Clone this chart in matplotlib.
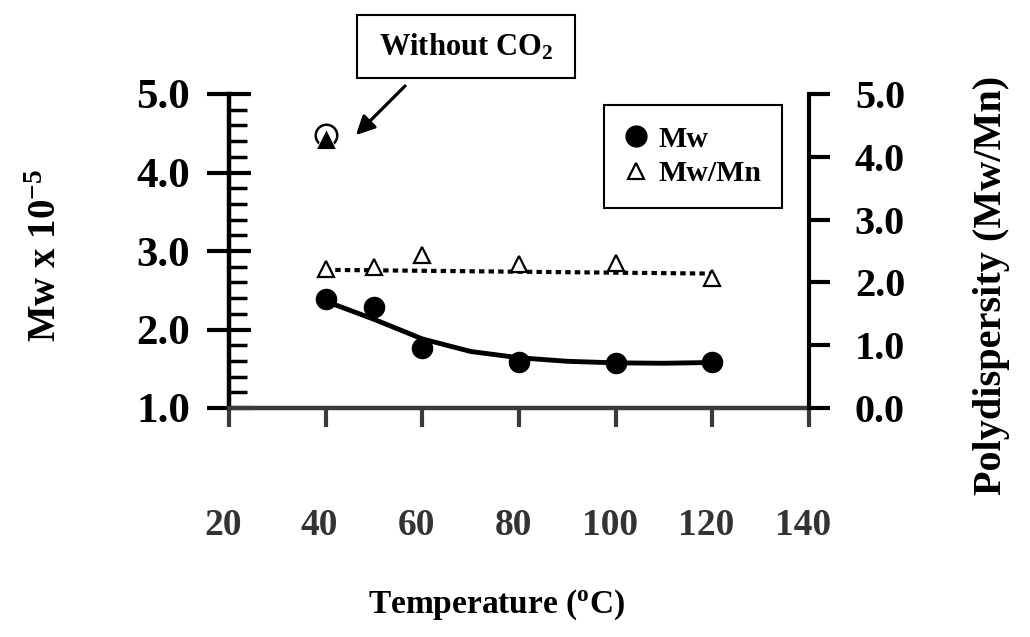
import matplotlib
matplotlib.use('Agg')
import matplotlib.pyplot as plt
import matplotlib.transforms as mtransforms
from matplotlib.patches import Rectangle
from matplotlib.lines import Line2D
from matplotlib.ticker import MultipleLocator

# ---- data ----
temps = [40, 50, 60, 80, 100, 120]
mw = [2.39, 2.29, 1.77, 1.58, 1.57, 1.58]
pdi = [2.22, 2.24, 2.43, 2.29, 2.31, 2.07]
mw_fit_t = [40, 50, 60, 70, 80, 90, 100, 110, 120]
mw_fit = [2.36, 2.13, 1.88, 1.72, 1.64, 1.595, 1.575, 1.57, 1.58]
pdi_fit_t = [40, 120]
pdi_fit = [2.20, 2.14]
noco2_t = [40]
noco2_mw = [4.48]
noco2_pdi = [4.29]
xticks = [20, 40, 60, 80, 100, 120, 140]
left_ticks = [1.0, 2.0, 3.0, 4.0, 5.0]
right_ticks = [0.0, 1.0, 2.0, 3.0, 4.0, 5.0]
legend_labels = ['Mw', 'Mw/Mn']

plt.rcParams['font.family'] = ['Liberation Serif', 'DejaVu Serif']
plt.rcParams['font.weight'] = 'bold'
plt.rcParams['mathtext.default'] = 'regular'

W, H = 1030, 637
fig = plt.figure(figsize=(W / 100, H / 100), dpi=100)


def fx(px):
    return px / W


def fy(py):
    return 1 - py / H


ax = fig.add_axes([fx(229), fy(408), fx(809) - fx(229), fy(94) - fy(408)])
ax2 = ax.twinx()

ax.set_xlim(20, 140)
ax.set_ylim(1, 5)
ax2.set_ylim(0, 5)

for a in (ax, ax2):
    a.spines['top'].set_visible(False)
ax.spines['right'].set_visible(False)
ax2.spines['left'].set_visible(False)
ax2.spines['bottom'].set_visible(False)
ax.spines['left'].set_linewidth(3.2)
ax.spines['bottom'].set_linewidth(3.2)
ax.spines['bottom'].set_color('#3a3a3a')
ax2.spines['right'].set_linewidth(3.0)

ax.set_xticks(xticks)
ax.set_xticklabels([str(t) for t in xticks])
ax.set_yticks(left_ticks)
ax.set_yticklabels([f'{v:.1f}' for v in left_ticks])
ax.yaxis.set_minor_locator(MultipleLocator(0.2))
ax2.set_yticks(right_ticks)
ax2.set_yticklabels([f'{v:.1f}' for v in right_ticks])

ax.tick_params(axis='y', which='major', direction='inout', length=31, width=3,
               labelsize=31, pad=12.5)
ax.tick_params(axis='y', which='minor', direction='in', length=13, width=2.5)
ax.tick_params(axis='x', direction='out', length=14, width=3, labelsize=27,
               pad=58, labelcolor='#333333', color='#3a3a3a')
ax2.tick_params(axis='y', direction='out', length=15, width=3, labelsize=29, pad=18)

shift = mtransforms.ScaledTranslation(-6 / 100, 0, fig.dpi_scale_trans)
for lab in ax.get_xticklabels():
    lab.set_transform(lab.get_transform() + shift)

# Mw
ax.plot(mw_fit_t, mw_fit, '-', color='k', lw=3.5, zorder=2)
ax.plot(temps, mw, 'o', color='k', ms=14.5, zorder=3)
ax.plot(noco2_t, noco2_mw, 'o', mfc='white', mec='k', ms=15.5, mew=1.8, zorder=3)

# Polydispersity
ax2.plot(pdi_fit_t, pdi_fit, color='k', lw=3, ls=(0, (1.3, 1.0)), zorder=2)
ax2.plot(temps, pdi, '^', mfc='white', mec='k', ms=11, mew=1.6, zorder=3)
ax2.plot(noco2_t, noco2_pdi, '^', color='k', mec='white', mew=0.6, ms=15, zorder=4)

# legend
h1 = Line2D([], [], marker='o', ls='none', color='k', markersize=15)
h2 = Line2D([], [], marker='^', ls='none', mfc='white', mec='k', markersize=11, mew=1.6)
leg = ax2.legend([h1, h2], legend_labels, loc='upper right',
                 bbox_to_anchor=(fx(782), fy(105)), bbox_transform=fig.transFigure,
                 frameon=True, fancybox=False, edgecolor='k', fontsize=21.5,
                 borderaxespad=0, borderpad=0.7, labelspacing=0.25,
                 handlelength=0.7, handletextpad=0.4, framealpha=1)
leg.get_frame().set_linewidth(1.5)

# annotation box
fig.add_artist(Rectangle((fx(357), fy(78)), fx(575) - fx(357), fy(15) - fy(78),
                         transform=fig.transFigure, facecolor='white',
                         edgecolor='k', lw=1.5))
fig.text(fx(466), fy(47), 'Without CO$_2$', fontsize=22, ha='center', va='center')
ax.annotate('', xy=(fx(354), fy(137)), xytext=(fx(407), fy(84)),
            xycoords='figure fraction', textcoords='figure fraction',
            arrowprops=dict(arrowstyle='-|>', lw=2.3, color='k', mutation_scale=28))

# axis labels
fig.text(fx(47), fy(256), 'Mw x 10$^{-5}$', rotation=90, ha='center', va='center',
         fontsize=28)
fig.text(fx(992), fy(285), 'Polydispersity (Mw/Mn)', rotation=90, ha='center',
         va='center', fontsize=29)
fig.text(fx(497), fy(605), 'Temperature ($^{o}$C)', ha='center', va='center',
         fontsize=24)

fig.savefig('out.png', dpi=100)
